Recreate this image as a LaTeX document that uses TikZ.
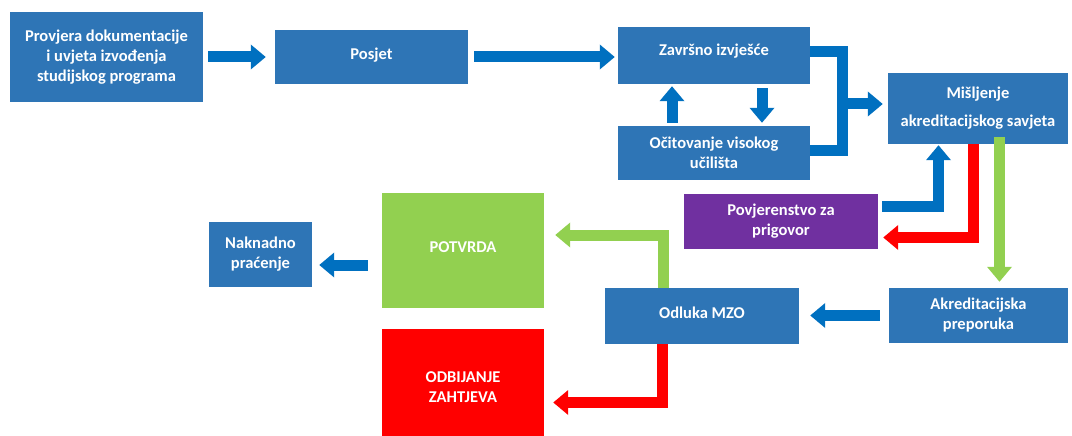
\documentclass[tikz,border=0pt]{standalone}
\usepackage{fontspec}
\setmainfont{Carlito}
\usetikzlibrary{arrows.meta}
\definecolor{boxblue}{HTML}{2E75B6}
\definecolor{arrblue}{HTML}{0070C0}
\definecolor{grn}{HTML}{92D050}
\definecolor{rd}{HTML}{FF0000}
\definecolor{prp}{HTML}{7030A0}
\begin{document}
\begin{tikzpicture}[x=1pt,y=-1pt,
  box/.style={fill=boxblue, text=white, font=\fontsize{16.5}{20}\selectfont\bfseries, align=center, inner sep=0pt, draw=none},
  bline/.style={line width=11pt, line join=miter},
  barrow/.style={bline, -{Triangle[length=15pt,width=24pt]}}]
\useasboundingbox[fill=white] (0,0) rectangle (1072,436);
% boxes
\node[box, minimum width=193pt, minimum height=90pt] (prov) at (106.5,57) {Provjera dokumentacije\\ i uvjeta izvođenja\\ studijskog programa};
\node[box, minimum width=193pt, minimum height=54pt] (posjet) at (371.5,57) {\raisebox{-2.5pt}[0pt][0pt]{Posjet}};
\node[box, minimum width=192pt, minimum height=57pt] (zav) at (714,55.5) {\raisebox{-0.5pt}[0pt][0pt]{Završno izvješće}};
\node[box, minimum width=192pt, minimum height=54pt] (oc) at (714,153) {Očitovanje visokog\\ učilišta};
\node[box, minimum width=180pt, minimum height=71pt] (mis) at (978,108.5) {Mišljenje\\[8pt] akreditacijskog savjeta};
\node[box, fill=prp, minimum width=194pt, minimum height=55pt] (pov) at (781,221.5) {Povjerenstvo za\\ prigovor};
\node[box, minimum width=179pt, minimum height=55pt] (ak) at (978.5,315.5) {Akreditacijska\\ preporuka};
\node[box, minimum width=194pt, minimum height=56pt] (odl) at (702,316) {\raisebox{-2pt}[0pt][0pt]{Odluka MZO}};
\node[box, fill=grn, minimum width=162pt, minimum height=115pt] (pot) at (463,250.5) {\raisebox{-2pt}[0pt][0pt]{POTVRDA}};
\node[box, fill=rd, minimum width=162pt, minimum height=117pt] (odb) at (463,387.5) {ODBIJANJE\\ ZAHTJEVA};
\node[box, minimum width=103pt, minimum height=65pt] (nak) at (260.5,254.5) {Naknadno\\ praćenje};
% connectors
\draw[barrow, arrblue, shorten <=5pt, shorten >=9pt] (prov.east) -- (prov.east -| posjet.west);
\draw[barrow, arrblue, shorten <=6pt, shorten >=3pt] (posjet.east) -- (posjet.east -| zav.west);
\draw[barrow, arrblue, shorten <=3pt, shorten >=2pt] ([xshift=-42pt]oc.north) -- ([xshift=-42pt]zav.south);
\draw[barrow, arrblue, shorten <=4pt, shorten >=3pt] ([xshift=48pt]zav.south) -- ([xshift=48pt]oc.north);
\draw[bline, arrblue] ([yshift=3.5pt]zav.east) -- ++(32.5,0) |- ([yshift=3pt]oc.east);
\coordinate (brk) at (848,104);
\draw[barrow, arrblue, shorten >=5pt] (brk) -- (brk -| mis.west);
\draw[barrow, arrblue, shorten <=4pt, shorten >=1pt] ([yshift=15.5pt]pov.east) -| ([xshift=-39.5pt]mis.south);
\draw[barrow, rd, shorten >=5pt] ([xshift=-5pt]mis.south) |- ([yshift=-16pt]pov.east);
\draw[barrow, grn, shorten >=6pt] ([xshift=21.5pt,yshift=7pt]mis.south) -- ([xshift=21.5pt]mis.south |- ak.north);
\draw[barrow, arrblue, shorten <=9pt, shorten >=11pt] (ak.west) -- (ak.west -| odl.east);
\draw[barrow, grn, shorten >=11pt] ([xshift=-39pt]odl.north) |- ([yshift=15.5pt]pot.east);
\draw[barrow, rd, shorten >=9pt] ([xshift=-40pt]odl.south) |- ([yshift=-15pt]odb.east);
\coordinate (pw) at ([yshift=-14.5pt]pot.west);
\draw[barrow, arrblue, shorten <=14pt, shorten >=7pt] (pw) -- (pw -| nak.east);
\end{tikzpicture}
\end{document}
